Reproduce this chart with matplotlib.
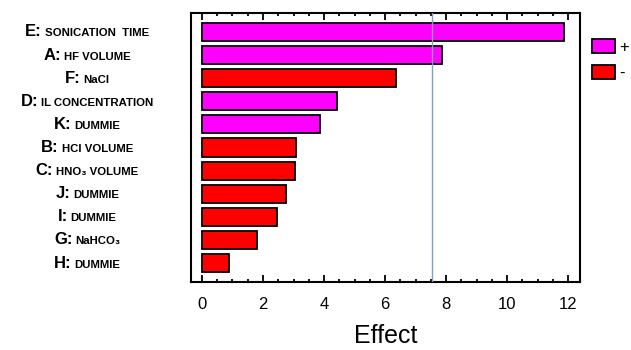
import matplotlib
matplotlib.use('Agg')
import matplotlib.pyplot as plt
from matplotlib.patches import Patch
from matplotlib.offsetbox import TextArea, HPacker, AnnotationBbox
from matplotlib.ticker import MultipleLocator

plt.rcParams['font.family'] = ['Liberation Sans', 'DejaVu Sans']

prefixes = ['E:', 'A:', 'F:', 'D:', 'K:', 'B:', 'C:', 'J:', 'I:', 'G:', 'H:']
names = ['SONICATION  TIME', 'HF VOLUME', 'NaCl', 'IL CONCENTRATION', 'DUMMIE',
         'HCl VOLUME', 'HNO\u2083 VOLUME', 'DUMMIE', 'DUMMIE', 'NaHCO\u2083', 'DUMMIE']
effects = [11.88, 7.87, 6.36, 4.43, 3.87, 3.08, 3.05, 2.75, 2.46, 1.80, 0.88]
signs = ['+', '+', '-', '+', '+', '-', '-', '-', '-', '-', '-']
ref_line = 7.54

col_pos = '#ff00ff'
col_neg = '#ff0000'

fig = plt.figure(figsize=(6.31, 3.5), dpi=100)
ax = fig.add_axes([191 / 631, 1 - 282 / 350, 389 / 631, 269 / 350])

ypos = list(range(len(effects)))
colors = [col_pos if s == '+' else col_neg for s in signs]
ax.barh(ypos, effects, height=0.78, color=colors, edgecolor='black', linewidth=1.3, zorder=2)
ax.axvline(ref_line, color='#7f9fc8', linewidth=1, zorder=3)

ax.set_xlim(-0.36, 12.39)
ax.set_ylim(len(effects) - 1 + 0.82, -0.82)
ax.set_yticks([])
ax.xaxis.set_major_locator(MultipleLocator(2))
ax.xaxis.set_minor_locator(MultipleLocator(0.5))
ax.tick_params(axis='x', which='both', direction='in', top=True, bottom=True, width=1.3)
ax.tick_params(axis='x', which='major', length=5, labelsize=12, pad=11)
ax.tick_params(axis='x', which='minor', length=2.5)
for sp in ax.spines.values():
    sp.set_linewidth(1.5)
ax.set_xlabel('Effect', fontsize=18, labelpad=8.5)

trans = ax.get_yaxis_transform()
for y, p, n in zip(ypos, prefixes, names):
    box = HPacker(children=[TextArea(p, textprops=dict(fontsize=12, fontweight='bold')),
                            TextArea(n, textprops=dict(fontsize=8.2, fontweight='bold'))],
                  align='baseline', pad=0, sep=2)
    ab = AnnotationBbox(box, (-0.267, y), xycoords=trans, box_alignment=(0.5, 0.5),
                        frameon=False, annotation_clip=False)
    ax.add_artist(ab)

handles = [Patch(facecolor=col_pos, edgecolor='black', linewidth=1.3, label='+'),
           Patch(facecolor=col_neg, edgecolor='black', linewidth=1.3, label='-')]
fig.legend(handles=handles, loc='upper left', bbox_to_anchor=(592 / 631, 1 - 39 / 350),
           frameon=False, fontsize=12, handlelength=1.38, handleheight=0.96,
           handletextpad=0.25, labelspacing=0.6, borderaxespad=0, borderpad=0)

fig.savefig('out.png', dpi=100)
